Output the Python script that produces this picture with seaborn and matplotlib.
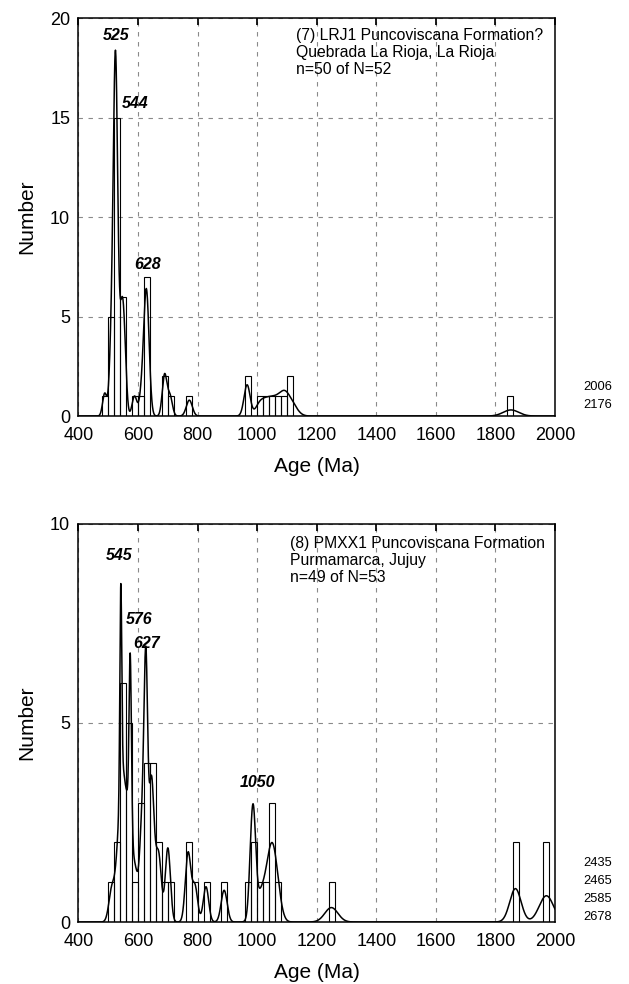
import matplotlib
matplotlib.use("Agg")
import matplotlib.pyplot as plt
import numpy as np
import seaborn as sns
from matplotlib.ticker import MultipleLocator

# (7) LRJ1 - single grain ages (Ma) and 1 sigma errors (Ma)
ages_7 = [488,
          507, 511, 514, 517, 519,
          521, 522, 523, 523, 524, 524, 525, 525, 525, 526, 526, 527, 528, 531, 536,
          542, 545, 547, 550, 553, 557,
          588, 612,
          622, 625, 627, 628, 629, 631, 635,
          687, 691, 707,
          772,
          964, 968,
          1008, 1030, 1050, 1070, 1090,
          1104, 1114,
          1852]
err_7 = [7,
         6.5, 6.5, 6.5, 6.5, 6.5,
         6.5, 6.5, 6.5, 6.5, 6.5, 6.5, 6.5, 6.5, 6.5, 6.5, 6.5, 6.5, 6.5, 6.5, 6.5,
         6.5, 6.5, 6.5, 6.5, 6.5, 6.5,
         8, 8,
         8, 8, 8, 8, 8, 8, 8,
         7.5, 7.5, 8,
         10,
         10, 10,
         14, 14, 14, 14, 14,
         20, 20,
         26]
peaks_7 = ["525", "544", "628"]
title_7 = "(7) LRJ1 Puncoviscana Formation?\nQuebrada La Rioja, La Rioja\nn=50 of N=52"
offscale_7 = ["2006", "2176"]

# (8) PMXX1
ages_8 = [512,
          531, 536,
          541, 543, 546, 549, 553, 557,
          565, 570, 573, 575, 579,
          592,
          610, 615, 619,
          622, 625, 628, 630,
          640, 643, 646, 650,
          664, 673,
          697, 703,
          766, 770, 791,
          828,
          889,
          979, 986, 990,
          1005, 1025,
          1043, 1048, 1055, 1066,
          1249,
          1866, 1868,
          1968, 1974]
err_8 = [10,
         10, 8,
         3, 3, 8, 8, 10, 10,
         8, 8, 3.5, 4, 8,
         8,
         8, 8, 8,
         5, 5, 5, 5,
         8, 8, 8, 8,
         8, 8,
         8, 8,
         9, 9, 9,
         9,
         10,
         7.5, 7.5, 7.5,
         18, 18,
         15, 15, 15, 15,
         22,
         19, 19,
         24, 24]
peaks_8 = ["545", "576", "627", "1050"]
title_8 = "(8) PMXX1 Puncoviscana Formation\nPurmamarca, Jujuy\nn=49 of N=53"
offscale_8 = ["2435", "2465", "2585", "2678"]

BINW = 20


def pdp(ages, errs, x):
    a = np.asarray(ages, dtype=float)[:, None]
    s = np.asarray(errs, dtype=float)[:, None]
    dens = np.exp(-0.5 * ((x - a) / s) ** 2) / (s * np.sqrt(2 * np.pi))
    return dens.sum(axis=0) * BINW


def plot_panel(ax, ages, errs, ymax, peaks, peak_xy, title, title_xy, offscale, off_y):
    sns.histplot(x=ages, binwidth=BINW, binrange=(400, 2000), fill=False,
                 color="black", linewidth=0.8, ax=ax)
    x = np.linspace(400, 2000, 3201)
    sns.lineplot(x=x, y=pdp(ages, errs, x), color="black", linewidth=1.1, ax=ax)

    ax.set_xlim(400, 2000)
    ax.set_ylim(0, ymax)
    ax.xaxis.set_major_locator(MultipleLocator(200))
    ax.xaxis.set_minor_locator(MultipleLocator(20))
    ax.yaxis.set_major_locator(MultipleLocator(5))
    ax.yaxis.set_minor_locator(MultipleLocator(1))
    ax.tick_params(axis="both", which="both", direction="in", colors="black",
                   labelsize=13)
    ax.tick_params(axis="x", which="major", top=True, length=5, pad=8)
    ax.tick_params(axis="x", which="minor", length=2.5, width=0.8)
    ax.tick_params(axis="y", which="major", length=5, pad=6)
    ax.tick_params(axis="y", which="minor", length=3, width=0.8)
    ax.grid(True, which="major", color="#8a8a8a", linestyle=(0, (4, 5)), linewidth=0.8)
    for sp in ax.spines.values():
        sp.set_visible(True)
        sp.set_color("black")
        sp.set_linewidth(1.1)

    ax.set_xlabel("Age (Ma)", fontsize=15, labelpad=9)
    ax.set_ylabel("Number", fontsize=15, labelpad=10)

    for lab, (px, py) in zip(peaks, peak_xy):
        ax.text(px, py, lab, fontsize=11.5, fontweight="bold", fontstyle="italic",
                ha="center", va="center")

    ax.text(title_xy[0], title_xy[1], title, transform=ax.transAxes, fontsize=11.3,
            ha="left", va="top", linespacing=1.15)

    for i, lab in enumerate(offscale):
        ax.text(1.059, off_y - i * 0.0455, lab, transform=ax.transAxes,
                fontsize=9.3, ha="left", va="center")


def main():
    sns.set_theme(style="white")
    plt.rcParams["font.family"] = ["Liberation Sans", "DejaVu Sans"]
    plt.rcParams["text.color"] = "black"
    plt.rcParams["axes.labelcolor"] = "black"

    fig = plt.figure(figsize=(6.29, 9.84), dpi=100)
    ax1 = fig.add_axes([0.1248, 0.5772, 0.7576, 0.4045])
    ax2 = fig.add_axes([0.1248, 0.0630, 0.7576, 0.4045])

    plot_panel(ax1, ages_7, err_7, 20, peaks_7,
               [(527, 19.1), (590, 15.7), (633, 7.6)],
               title_7, (0.4565, 0.975), offscale_7, 0.073)
    plot_panel(ax2, ages_8, err_8, 10, peaks_8,
               [(537, 9.2), (603, 7.6), (629, 7.0), (1000, 3.5)],
               title_8, (0.444, 0.97), offscale_8, 0.148)

    fig.savefig("out.png", dpi=100)


if __name__ == "__main__":
    main()
